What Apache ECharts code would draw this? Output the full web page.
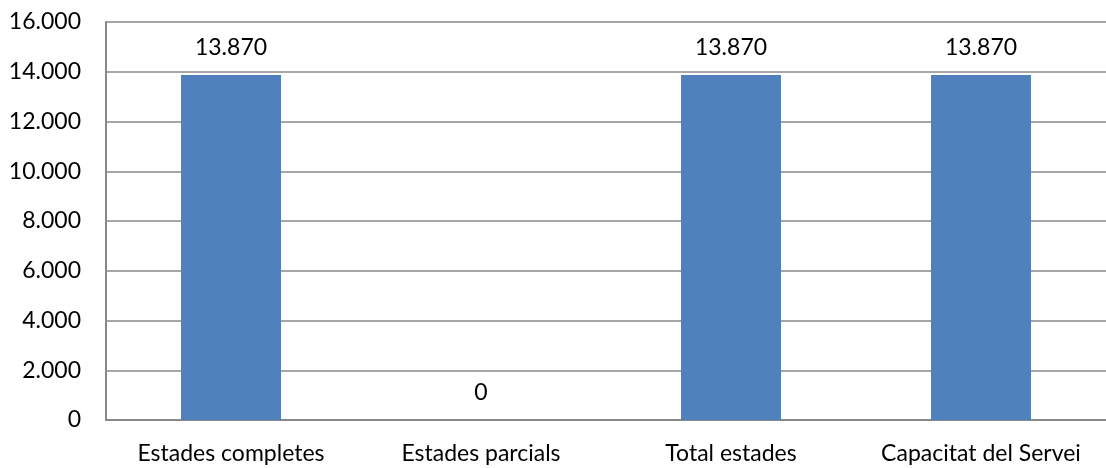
<!DOCTYPE html>
<html>
<head>
<meta charset="utf-8">
<script src="https://cdn.jsdelivr.net/npm/echarts@6/dist/echarts.min.js"></script>
<style>
  html, body { margin: 0; padding: 0; background: #fff; }
  #main { width: 1106px; height: 468px; }
</style>
</head>
<body>
<div id="main"></div>
<script>
var categories = ['Estades completes', 'Estades parcials', 'Total estades', 'Capacitat del Servei'];
var values = [13870, 0, 13870, 13870];
var yTicks = { min: 0, max: 16000, interval: 2000 };

function fmt(v) {
  return String(v).replace(/\B(?=(\d{3})+(?!\d))/g, '.');
}

var myChart = echarts.init(document.getElementById('main'));
var fontFam = 'Lato, "Open Sans", sans-serif';

myChart.setOption({
  animation: false,
  grid: { left: 106, right: -5, top: 22, bottom: 48, containLabel: false },
  xAxis: {
    type: 'category',
    data: categories,
    axisLine: { lineStyle: { color: '#888', width: 2 } },
    axisTick: { show: false },
    axisLabel: { color: '#000', fontSize: 23, fontFamily: fontFam, margin: 22, interval: 0, hideOverlap: false }
  },
  yAxis: {
    type: 'value',
    min: yTicks.min,
    max: yTicks.max,
    interval: yTicks.interval,
    axisLine: { show: true, lineStyle: { color: '#888', width: 2 } },
    axisTick: { show: false },
    splitLine: { lineStyle: { color: '#888', width: 1.5 } },
    axisLabel: {
      color: '#000', fontSize: 23, fontFamily: fontFam, margin: 25,
      formatter: function (v) { return fmt(v); }
    }
  },
  series: [{
    type: 'bar',
    data: values,
    barWidth: 100,
    itemStyle: { color: '#4F81BD' },
    label: {
      show: true,
      position: 'top',
      distance: 16,
      color: '#000',
      fontSize: 23,
      fontFamily: fontFam,
      formatter: function (p) { return fmt(p.value); }
    }
  }]
});
</script>
</body>
</html>
